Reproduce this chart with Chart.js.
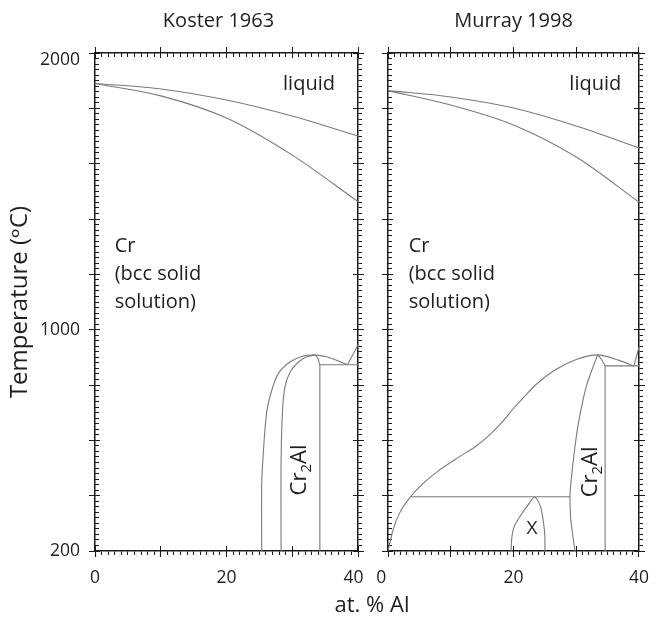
<!DOCTYPE html>
<html>
<head>
<meta charset="utf-8">
<script src="https://cdn.jsdelivr.net/npm/chart.js@4.4.1/dist/chart.umd.min.js"></script>
<style>
  body { margin: 0; background: #fff; }
  #wrap { position: relative; width: 660px; height: 617px; }
  #wrap canvas { position: absolute; left: 0; top: 0; }
</style>
</head>
<body>
<div id="wrap">
  <canvas id="koster" width="660" height="617"></canvas>
  <canvas id="murray" width="660" height="617"></canvas>
</div>
<script>
// --- data: composition (at. % Al) and temperature (degC) ---
const xTickValues = [0, 20, 40];
const tTickValues = [200, 1000, 2000];

// Koster 1963
const kLiquidusX = [0, 10, 20, 30, 40];
const kLiquidusT = [1890, 1870, 1830, 1772, 1700];
const kSolidusX = [0, 10, 20, 30, 40];
const kSolidusT = [1890, 1845, 1765, 1631, 1463];
const kOuterX = [25.35, 25.35, 25.5, 26.1, 26.9, 27.9, 29.7, 31.7, 33.5];
const kOuterT = [200, 433, 517, 699, 782, 842, 884, 905, 909];
const kInnerX = [28.3, 28.3, 28.5, 28.9, 29.7, 31.0, 32.2, 33.5];
const kInnerT = [200, 518, 698, 794, 848, 884, 902, 909];
const kEdgeX = [33.5, 33.9, 34.2];
const kEdgeT = [909, 895, 873];
const kCr2AlX = [34.2, 34.2];
const kCr2AlT = [873, 200];
const kFlatX = [34.2, 40];
const kFlatT = [873, 873];
const kDropX = [33.5, 35.2, 37.3, 38.4];
const kDropT = [909, 902, 884, 873];
const kRiseX = [38.4, 40];
const kRiseT = [873, 945];

// Murray 1998
const mLiquidusX = [0, 10, 20, 30, 40];
const mLiquidusT = [1864, 1841, 1801, 1736, 1657];
const mSolidusX = [0, 10, 20, 30, 40];
const mSolidusT = [1864, 1812, 1740, 1624, 1461];
const mBccX = [0, 0.8, 1.82, 3.59, 5.35, 7.88, 11.4, 13.9, 16.5, 18.5, 20, 21.5, 23.5, 26.6, 30.1, 33.4, 36.7, 39.2];
const mBccT = [200, 276, 336, 396, 439, 487, 541, 577, 626, 674, 716, 752, 800, 854, 893, 909, 890, 869];
const mRiseX = [39.2, 40];
const mRiseT = [869, 937];
const mFlatLowX = [3.59, 29.0];
const mFlatLowT = [396, 396];
const mCr2AlLeftX = [33.4, 31.6, 30.35, 29.6, 29.1, 29.0, 29.1, 29.4, 29.8];
const mCr2AlLeftT = [909, 794, 662, 541, 433, 396, 324, 264, 200];
const mEdgeX = [33.4, 34.0, 34.6];
const mEdgeT = [909, 893, 869];
const mCr2AlX = [34.6, 34.6];
const mCr2AlT = [869, 200];
const mFlatX = [34.6, 40];
const mFlatT = [869, 869];
const mXPhaseX = [19.6, 19.75, 20.1, 21.0, 22.3, 23.4, 24.3, 24.8, 25.0, 25.0];
const mXPhaseT = [200, 252, 288, 324, 366, 394, 360, 300, 252, 200];

// --- styles ---
const FONT = '"Open Sans", "DejaVu Sans", sans-serif';
const TEXT_COLOR = '#1e1e1e';
const LINE_COLOR = '#7a7a7a';
const AXIS_COLOR = '#1a1a1a';

function curve(xs, ts, tension, monotone) {
    return {
        data: xs.map((x, i) => ({ x: x, y: ts[i] })),
        borderColor: LINE_COLOR,
        borderWidth: 1.1,
        pointRadius: 0,
        tension: tension,
        cubicInterpolationMode: monotone ? 'monotone' : 'default',
        fill: false
    };
}

// evenly spaced tick marks between the axis limits
function stepTicks(min, max, step) {
    return s => {
        const t = [];
        for (let i = 0; min + i * step <= max + 1e-9; i++) t.push({ value: Math.round((min + i * step) * 1000) / 1000 });
        s.ticks = t;
    };
}

// one side of the frame: minor ticks, major ticks inside, major ticks outside (+ labels)
function axisSet(key, pos, min, max, minorStep, majorStep, minorLen, size, labelFn) {
    const horiz = pos === 'top' || pos === 'bottom';
    const base = (step, len, weight, px) => ({
        type: 'linear', position: pos, min: min, max: max, weight: weight,
        afterBuildTicks: stepTicks(min, max, step),
        afterFit: s => { if (horiz) s.height = px; else s.width = px; },
        grid: { drawOnChartArea: false, drawTicks: true, tickLength: len, tickColor: AXIS_COLOR, tickWidth: 1 },
        border: { display: false },
        ticks: { stepSize: step, autoSkip: false, display: false }
    });
    const minor = base(minorStep, minorLen, 0, 0);
    minor.border = { display: true, color: AXIS_COLOR, width: 1.5 };
    const majIn = base(majorStep, -5, 0, 0);
    const majOut = base(majorStep, 6, 1, size);
    if (labelFn) {
        majOut.ticks = {
            stepSize: majorStep, autoSkip: false, display: true, color: TEXT_COLOR,
            padding: horiz ? 11 : 9,
            callback: labelFn,
            font: c => (c.tick && Math.round(c.tick.value) === 2000)
                ? { family: FONT, size: 17.5, lineHeight: '14px' }
                : { family: FONT, size: 17.5 }
        };
    }
    return { [key]: minor, [key + 'MajIn']: majIn, [key + 'MajOut']: majOut };
}

function xLabels(shiftRight) {
    return v => {
        const r = Math.round(v);
        if (!xTickValues.includes(r)) return '';
        if (r === 40 && !shiftRight) return '40  ';
        if (r === 0 && shiftRight) return '0   ';
        return String(r);
    };
}

function tLabels(v) {
    const r = Math.round(v);
    if (!tTickValues.includes(r)) return '';
    return r === 2000 ? ['', '2000'] : String(r);
}

// --- text on the diagrams ---
const phaseText = {
    id: 'phaseText',
    afterDraw(chart, args, opts) {
        const { ctx, chartArea } = chart;
        const sx = chart.scales.x, sy = chart.scales.y;
        ctx.save();
        ctx.fillStyle = TEXT_COLOR;
        ctx.textBaseline = 'alphabetic';

        ctx.font = `20px ${FONT}`;
        ctx.textAlign = 'center';
        ctx.fillText(opts.title, (chartArea.left + chartArea.right) / 2 + opts.titleShift, chartArea.top - 26);

        ctx.textAlign = 'left';
        ctx.fillText('liquid', sx.getPixelForValue(opts.liquidX), sy.getPixelForValue(1866));

        const crLines = ['Cr', '(bcc solid', 'solution)'];
        const crTop = sy.getPixelForValue(1281);
        crLines.forEach((s, i) => ctx.fillText(s, sx.getPixelForValue(opts.crX), crTop + i * 28));

        // Cr2Al, rotated, reading upwards
        const size = 22;
        const big = `${size}px ${FONT}`, small = `${Math.round(size * 0.68)}px ${FONT}`;
        ctx.font = big;
        const w1 = ctx.measureText('Cr').width, w3 = ctx.measureText('Al').width;
        ctx.font = small;
        const w2 = ctx.measureText('2').width;
        ctx.translate(sx.getPixelForValue(opts.cr2AlX), sy.getPixelForValue(opts.cr2AlT));
        ctx.rotate(-Math.PI / 2);
        let p = -(w1 + w2 + w3) / 2;
        const base = size * 0.36;
        ctx.font = big; ctx.fillText('Cr', p, base); p += w1;
        ctx.font = small; ctx.fillText('2', p, base + size * 0.22); p += w2;
        ctx.font = big; ctx.fillText('Al', p, base);
        ctx.setTransform(1, 0, 0, 1, 0, 0);

        if (opts.showX) {
            ctx.font = `19px ${FONT}`;
            ctx.textAlign = 'center';
            ctx.textBaseline = 'middle';
            ctx.fillText('X', sx.getPixelForValue(22.95), sy.getPixelForValue(280));
        }
        if (opts.xTitle) {
            ctx.font = `22px ${FONT}`;
            ctx.textAlign = 'center';
            ctx.textBaseline = 'alphabetic';
            ctx.fillText(opts.xTitle, 372, 612);
        }
        ctx.restore();
    }
};

function makeChart(id, datasets, pad, leftSize, textOpts) {
    const scales = Object.assign({},
        axisSet('x', 'bottom', 0, 40, 1, 10, 4, 66, xLabels(id === 'murray')),
        axisSet('xTop', 'top', 0, 40, 1, 10, -4, 0, null),
        axisSet('y', 'left', 200, 2000, 20, 200, -4, leftSize, leftSize ? tLabels : null),
        axisSet('yRight', 'right', 200, 2000, 20, 200, 4, 0, null)
    );
    if (leftSize) {
        scales.yMajOut.title = {
            display: true, text: 'Temperature (ᵒC)', color: TEXT_COLOR,
            font: { family: FONT, size: 24 }, padding: { top: 6, bottom: 0 }
        };
    }
    return new Chart(document.getElementById(id), {
        type: 'line',
        data: { datasets: datasets },
        options: {
            responsive: false,
            animation: false,
            devicePixelRatio: 1,
            layout: { padding: pad },
            scales: scales,
            plugins: { legend: { display: false }, tooltip: { enabled: false }, phaseText: textOpts }
        },
        plugins: [phaseText]
    });
}

makeChart('koster', [
    curve(kLiquidusX, kLiquidusT, 0.4, true),
    curve(kSolidusX, kSolidusT, 0.4, true),
    curve(kOuterX, kOuterT, 0.35),
    curve(kInnerX, kInnerT, 0.35),
    curve(kEdgeX, kEdgeT, 0.3),
    curve(kCr2AlX, kCr2AlT, 0),
    curve(kFlatX, kFlatT, 0),
    curve(kDropX, kDropT, 0.3),
    curve(kRiseX, kRiseT, 0)
], { left: 0, right: 302, top: 53, bottom: 0 }, 95,
   { title: 'Koster 1963', titleShift: -8, liquidX: 28.6, crX: 3.0, cr2AlX: 30.9, cr2AlT: 493, showX: false });

makeChart('murray', [
    curve(mLiquidusX, mLiquidusT, 0.4, true),
    curve(mSolidusX, mSolidusT, 0.4, true),
    curve(mBccX, mBccT, 0.4, true),
    curve(mRiseX, mRiseT, 0),
    curve(mFlatLowX, mFlatLowT, 0),
    curve(mCr2AlLeftX, mCr2AlLeftT, 0.35),
    curve(mEdgeX, mEdgeT, 0.3),
    curve(mCr2AlX, mCr2AlT, 0),
    curve(mFlatX, mFlatT, 0),
    curve(mXPhaseX, mXPhaseT, 0.3)
], { left: 388, right: 8, top: 53, bottom: 0 }, 0,
   { title: 'Murray 1998', titleShift: 0, liquidX: 28.9, crX: 3.3, cr2AlX: 32.0, cr2AlT: 486, showX: true, xTitle: 'at. % Al' });
</script>
</body>
</html>
